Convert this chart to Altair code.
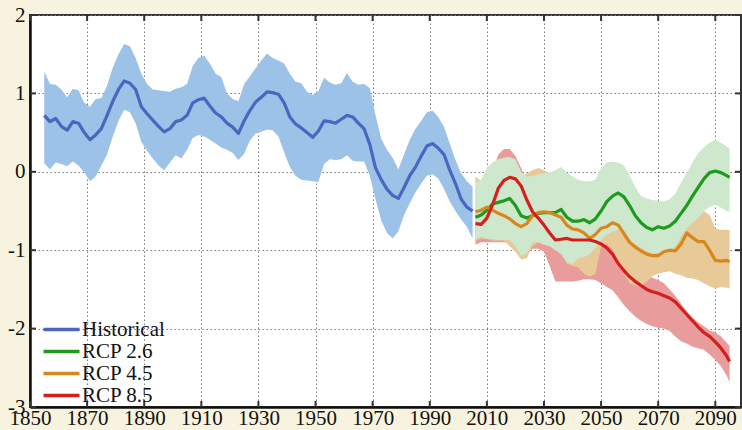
import altair as alt
import pandas as pd

# ---------------- data ----------------
hist_years = [1855, 1857, 1859, 1861, 1863, 1865, 1867, 1869, 1871, 1873, 1875, 1877, 1879,
              1881, 1883, 1885, 1887, 1889, 1891, 1893, 1895, 1897, 1899, 1901, 1903, 1905,
              1907, 1909, 1911, 1913, 1915, 1917, 1919, 1921, 1923, 1925, 1927, 1929, 1931,
              1933, 1935, 1937, 1939, 1941, 1943, 1945, 1947, 1949, 1951, 1953, 1955, 1957,
              1959, 1961, 1963, 1965, 1967, 1969, 1970, 1971, 1973, 1975, 1977, 1979, 1981,
              1983, 1985, 1987, 1989, 1991, 1993, 1995, 1997, 1999, 2001, 2003, 2005]
hist_mean = [0.72, 0.64, 0.68, 0.58, 0.53, 0.64, 0.62, 0.50, 0.41, 0.47, 0.55, 0.72, 0.90,
             1.05, 1.16, 1.13, 1.05, 0.83, 0.74, 0.66, 0.58, 0.51, 0.55, 0.64, 0.66, 0.72,
             0.88, 0.92, 0.94, 0.84, 0.75, 0.70, 0.62, 0.57, 0.49, 0.65, 0.78, 0.89, 0.95,
             1.02, 1.01, 0.99, 0.88, 0.70, 0.61, 0.56, 0.50, 0.44, 0.52, 0.65, 0.64, 0.62,
             0.67, 0.72, 0.70, 0.62, 0.55, 0.35, 0.20, 0.05, -0.10, -0.22, -0.30, -0.34, -0.20,
             -0.05, 0.06, 0.20, 0.33, 0.36, 0.30, 0.22, 0.02, -0.15, -0.35, -0.45, -0.50]
hist_upper = [1.28, 1.12, 1.11, 1.05, 0.95, 1.06, 1.04, 0.88, 0.83, 0.93, 0.94, 1.10, 1.33,
              1.50, 1.63, 1.60, 1.45, 1.25, 1.12, 1.05, 1.04, 1.03, 1.02, 1.06, 1.08, 1.12,
              1.35, 1.45, 1.48, 1.38, 1.25, 1.21, 1.00, 0.93, 0.90, 1.12, 1.22, 1.32, 1.42,
              1.51, 1.45, 1.42, 1.38, 1.25, 1.15, 1.13, 1.02, 0.98, 1.03, 1.20, 1.14, 1.11,
              1.13, 1.26, 1.15, 1.11, 1.12, 1.07, 0.90, 0.72, 0.42, 0.28, 0.18, 0.03, 0.22,
              0.41, 0.55, 0.65, 0.76, 0.78, 0.70, 0.57, 0.36, 0.15, -0.02, -0.12, -0.19]
hist_lower = [0.11, 0.03, 0.12, 0.10, 0.07, 0.13, 0.08, -0.01, -0.12, -0.06, 0.08, 0.22, 0.45,
              0.65, 0.79, 0.76, 0.62, 0.38, 0.27, 0.17, 0.08, 0.02, 0.12, 0.21, 0.17, 0.28,
              0.43, 0.47, 0.45, 0.41, 0.36, 0.31, 0.28, 0.24, 0.15, 0.23, 0.40, 0.49, 0.51,
              0.54, 0.53, 0.45, 0.25, 0.06, -0.05, -0.10, -0.11, -0.12, -0.13, 0.10, 0.16, 0.15,
              0.16, 0.21, 0.14, 0.13, 0.13, -0.05, -0.20, -0.35, -0.62, -0.78, -0.85, -0.76, -0.55,
              -0.40, -0.26, -0.15, -0.05, -0.03, -0.09, -0.22, -0.38, -0.50, -0.61, -0.70, -0.85]

proj_years = [2006, 2008, 2010, 2012, 2014, 2016, 2018, 2020, 2022, 2024, 2026, 2028, 2030,
              2032, 2034, 2036, 2038, 2040, 2042, 2044, 2046, 2048, 2050, 2052, 2054, 2056,
              2058, 2060, 2062, 2064, 2066, 2068, 2070, 2072, 2074, 2076, 2078, 2080, 2082,
              2084, 2086, 2088, 2090, 2092, 2094, 2095]

rcp26_mean = [-0.58, -0.55, -0.49, -0.41, -0.39, -0.37, -0.34, -0.43, -0.56, -0.59, -0.56, -0.53, -0.52,
              -0.52, -0.52, -0.48, -0.58, -0.63, -0.63, -0.61, -0.65, -0.60, -0.50, -0.38, -0.31, -0.27,
              -0.32, -0.43, -0.56, -0.65, -0.71, -0.74, -0.70, -0.72, -0.69, -0.63, -0.53, -0.43, -0.31,
              -0.20, -0.09, -0.01, 0.01, -0.01, -0.05, -0.07]
rcp26_upper = [-0.14, -0.10, 0.05, 0.12, 0.16, 0.18, 0.19, 0.16, 0.00, -0.06, -0.05, -0.03, -0.02,
               -0.01, 0.02, 0.06, -0.01, -0.06, -0.10, -0.12, -0.12, -0.10, 0.05, 0.12, 0.13, 0.12,
               0.08, -0.05, -0.20, -0.31, -0.34, -0.36, -0.37, -0.38, -0.35, -0.28, -0.14, -0.02, 0.12,
               0.24, 0.31, 0.37, 0.41, 0.37, 0.32, 0.30]
rcp26_lower = [-0.86, -0.83, -0.85, -0.86, -0.87, -0.87, -0.87, -0.95, -1.07, -1.04, -0.90, -0.90, -0.93,
               -0.95, -1.00, -1.05, -1.15, -1.18, -1.10, -1.09, -1.05, -0.97, -0.87, -0.80, -0.76, -0.74,
               -0.76, -0.86, -0.93, -0.97, -1.01, -1.04, -1.04, -1.04, -1.00, -0.95, -0.83, -0.72, -0.65,
               -0.59, -0.50, -0.45, -0.42, -0.46, -0.50, -0.51]

rcp45_mean = [-0.51, -0.49, -0.45, -0.49, -0.53, -0.56, -0.60, -0.66, -0.70, -0.66, -0.56, -0.52, -0.51,
              -0.52, -0.55, -0.58, -0.68, -0.73, -0.74, -0.78, -0.85, -0.80, -0.72, -0.70, -0.65, -0.68,
              -0.79, -0.90, -0.96, -1.01, -1.05, -1.07, -1.07, -1.02, -1.00, -1.01, -0.92, -0.78, -0.84,
              -0.89, -0.89, -1.00, -1.13, -1.14, -1.13, -1.15]
rcp45_upper = [-0.06, -0.12, -0.05, 0.05, 0.10, 0.12, 0.10, 0.00, -0.08, -0.02, 0.02, 0.05, 0.02,
               -0.02, -0.08, -0.15, -0.22, -0.25, -0.30, -0.35, -0.40, -0.38, -0.33, -0.30, -0.32, -0.36,
               -0.45, -0.55, -0.62, -0.68, -0.70, -0.72, -0.74, -0.74, -0.72, -0.70, -0.62, -0.55, -0.50,
               -0.52, -0.50, -0.55, -0.72, -0.74, -0.74, -0.74]
rcp45_lower = [-0.88, -0.85, -0.86, -0.88, -0.88, -0.88, -0.95, -1.02, -1.12, -1.10, -0.95, -0.90, -0.90,
               -0.92, -0.95, -1.05, -1.17, -1.20, -1.22, -1.30, -1.34, -1.30, -0.95, -0.92, -0.98, -1.15,
               -1.30, -1.42, -1.45, -1.46, -1.40, -1.33, -1.30, -1.28, -1.27, -1.30, -1.32, -1.35, -1.36,
               -1.38, -1.42, -1.46, -1.49, -1.47, -1.48, -1.49]

rcp85_mean = [-0.66, -0.67, -0.59, -0.42, -0.21, -0.11, -0.07, -0.09, -0.18, -0.36, -0.51, -0.59, -0.68,
              -0.78, -0.87, -0.86, -0.85, -0.87, -0.87, -0.87, -0.87, -0.89, -0.92, -0.97, -1.05, -1.17,
              -1.26, -1.34, -1.40, -1.45, -1.50, -1.53, -1.55, -1.58, -1.61, -1.66, -1.74, -1.82, -1.90,
              -1.98, -2.05, -2.10, -2.17, -2.25, -2.35, -2.42]
rcp85_upper = [-0.55, -0.40, -0.25, 0.00, 0.22, 0.29, 0.29, 0.20, 0.05, -0.12, -0.30, -0.45, -0.55,
               -0.62, -0.65, -0.65, -0.65, -0.66, -0.68, -0.70, -0.72, -0.78, -0.85, -0.88, -0.92, -1.00,
               -1.10, -1.18, -1.25, -1.30, -1.32, -1.35, -1.38, -1.42, -1.50, -1.58, -1.68, -1.78, -1.86,
               -1.92, -1.97, -2.02, -2.05, -2.10, -2.18, -2.22]
rcp85_lower = [-0.93, -0.90, -0.90, -0.90, -0.90, -0.90, -0.90, -0.95, -1.05, -1.05, -0.98, -0.98, -1.02,
               -1.20, -1.40, -1.40, -1.40, -1.40, -1.39, -1.37, -1.37, -1.38, -1.42, -1.47, -1.51, -1.60,
               -1.70, -1.78, -1.85, -1.90, -1.94, -1.97, -1.99, -2.00, -2.03, -2.10, -2.16, -2.19, -2.23,
               -2.25, -2.27, -2.33, -2.40, -2.48, -2.60, -2.68]

series_names = ["Historical", "RCP 2.6", "RCP 4.5", "RCP 8.5"]
line_colors = ["#4a66bf", "#1e9a1e", "#d8861e", "#d41f1f"]
band_colors = ["#9cc3e7", "#cde8cc", "#e8c998", "#e89c9c"]

x_ticks = [1850, 1870, 1890, 1910, 1930, 1950, 1970, 1990, 2010, 2030, 2050, 2070, 2090]
y_ticks = [-3, -2, -1, 0, 1, 2]

# ---------------- tables ----------------
def band_table(years, lower, upper):
    return pd.DataFrame({"year": years, "lo": lower, "hi": upper})

line_rows = []
for name, yrs, vals in [("Historical", hist_years, hist_mean),
                        ("RCP 2.6", proj_years, rcp26_mean),
                        ("RCP 4.5", proj_years, rcp45_mean),
                        ("RCP 8.5", proj_years, rcp85_mean)]:
    for yr, v in zip(yrs, vals):
        line_rows.append({"series": name, "year": yr, "value": v})
lines_df = pd.DataFrame(line_rows)

W, H = 711, 392
FONT = "Liberation Serif"

x_scale = alt.Scale(domain=[1850, 2099], nice=False, zero=False)
y_scale = alt.Scale(domain=[-3, 2], nice=False, zero=False)

x_axis = alt.Axis(values=x_ticks, title=None, grid=True, gridDash=[1.5, 2.5], gridColor="#7a7a7a",
                  gridWidth=1, tickSize=0, domainColor="#111111", domainWidth=2.5,
                  labelFont=FONT, labelFontSize=21, labelColor="#111111", labelPadding=0,
                  labelExpr="'' + datum.value", labelFlush=False)
y_axis = alt.Axis(values=y_ticks, title=None, grid=True, gridDash=[1.5, 2.5], gridColor="#7a7a7a",
                  gridWidth=1, tickSize=0, domainColor="#111111", domainWidth=2.5,
                  labelFont=FONT, labelFontSize=21, labelColor="#111111", labelPadding=5,
                  labelExpr="'' + datum.value", labelFlush=False)

X = alt.X("year:Q", scale=x_scale, axis=x_axis)
Y_lo = alt.Y("lo:Q", scale=y_scale, axis=y_axis)


def band(df, color):
    return alt.Chart(df).mark_area(color=color, opacity=1, strokeWidth=0).encode(
        x=X, y=Y_lo, y2="hi:Q")


bands = [
    band(band_table(hist_years, hist_lower, hist_upper), band_colors[0]),
    band(band_table(proj_years, rcp85_lower, rcp85_upper), band_colors[3]),
    band(band_table(proj_years, rcp45_lower, rcp45_upper), band_colors[2]),
    band(band_table(proj_years, rcp26_lower, rcp26_upper), band_colors[1]),
]

# legend key: a long horizontal stroke drawn from a small symbol box so rows stay tight
legend_key = "M-3.6,0H3.6"

lines = alt.Chart(lines_df).mark_line(strokeWidth=3.2, strokeJoin="round").encode(
    x=X,
    y=alt.Y("value:Q", scale=y_scale, axis=y_axis),
    color=alt.Color("series:N", scale=alt.Scale(domain=series_names, range=line_colors),
                    sort=series_names,
                    legend=alt.Legend(title=None, orient="none", legendX=16, legendY=299,
                                      symbolType=legend_key, symbolSize=100, symbolStrokeWidth=3.5,
                                      labelFont=FONT, labelFontSize=21, labelColor="#111111",
                                      labelOffset=10, rowPadding=0, padding=5)),
    detail="series:N",
)

# inward tick marks on all four sides
xt = pd.DataFrame({"year": x_ticks})
yt = pd.DataFrame({"lo": y_ticks})
tick_color = "#333333"
ticks = [
    alt.Chart(xt).mark_rule(color=tick_color, strokeWidth=2).encode(
        x=X, y=alt.value(H - 6), y2=alt.value(H)),
    alt.Chart(xt).mark_rule(color=tick_color, strokeWidth=2).encode(
        x=X, y=alt.value(0), y2=alt.value(6)),
    alt.Chart(yt).mark_rule(color=tick_color, strokeWidth=2).encode(
        y=Y_lo, x=alt.value(0), x2=alt.value(6)),
    alt.Chart(yt).mark_rule(color=tick_color, strokeWidth=2).encode(
        y=Y_lo, x=alt.value(W - 6), x2=alt.value(W)),
]

chart = alt.layer(*bands, lines, *ticks).properties(
    width=W, height=H,
    autosize=alt.AutoSizeParams(type="none"),
    padding={"left": 30, "top": 15, "right": 1, "bottom": 23},
    background="#f8f3de",
).configure_view(
    fill="white", stroke="#333333", strokeWidth=2,
)

chart.save("out.html", embed_options={"renderer": "svg", "actions": False})
